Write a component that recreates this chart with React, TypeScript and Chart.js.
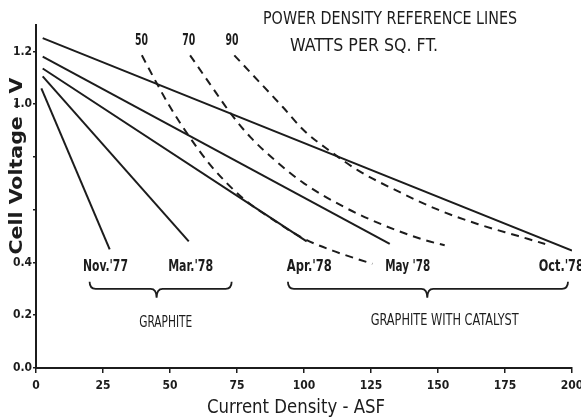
import React, { useEffect, useRef } from "react";
import { Chart, registerables } from "chart.js";

Chart.register(...registerables);

// Cell performance lines (current density ASF, cell voltage V)
const novI = [2, 27.5];
const novV = [1.06, 0.45];
const marI = [2.5, 57];
const marV = [1.105, 0.48];
const aprI = [2.5, 101];
const aprV = [1.135, 0.48];
const mayI = [2.5, 132];
const mayV = [1.18, 0.47];
const octI = [2.5, 200];
const octV = [1.25, 0.445];

// Power density reference lines
const p50I = [39.5, 45, 50, 57, 65, 77, 88, 100, 112, 125.5];
const p50V = [1.185, 1.08, 0.99, 0.88, 0.77, 0.645, 0.565, 0.49, 0.44, 0.395];
const p70I = [57.5, 65, 73, 80, 90, 100, 115, 130, 145, 152.5];
const p70V = [1.185, 1.075, 0.96, 0.875, 0.78, 0.7, 0.61, 0.54, 0.485, 0.465];
const p90I = [74, 80, 92, 100, 110, 120, 135, 150, 165, 180, 190];
const p90V = [1.185, 1.12, 0.99, 0.9, 0.82, 0.75, 0.67, 0.6, 0.545, 0.5, 0.47];

// Labels
const powerLabels = ["50", "70", "90"];
const powerLabelI = [39.4, 57, 73.1];
const powerLabelV = 1.24;
const dateLabels = ["Nov.'77", "Mar.'78", "Apr.'78", "May '78", "Oct.'78"];
const dateLabelI = [25.9, 57.7, 102, 138.7, 196];
const dateLabelV = 0.384;
const groupLabels = ["GRAPHITE", "GRAPHITE WITH CATALYST"];
const groupLabelI = [48.4, 152.5];
const groupLabelV = [0.169, 0.177];
const braceStartI = [20, 94];
const braceEndI = [73, 198.5];
const braceMidI = [45, 146];
const braceV = 0.3;

const xTicks = [0, 25, 50, 75, 100, 125, 150, 175, 200];
const yTickLabels: Record<string, string> = {
  "0": "0.0",
  "0.2": "0.2",
  "0.4": "0.4",
  "0.6": "",
  "0.8": "",
  "1": "1.0",
  "1.2": "1.2",
};

const INK = "#1c1c1c";
const FONT = '"DejaVu Sans Condensed", "DejaVu Sans", sans-serif';

function pts(xs: number[], ys: number[]) {
  return xs.map((x, i) => ({ x, y: ys[i] }));
}

function drawText(
  ctx: CanvasRenderingContext2D,
  text: string,
  x: number,
  y: number,
  size: number,
  weight: string,
  width: number | null,
  align: CanvasTextAlign = "center",
  rotate = 0
) {
  ctx.save();
  ctx.font = `${weight} ${size}px ${FONT}`;
  const w = ctx.measureText(text).width;
  const sx = width ? width / w : 1;
  ctx.translate(x, y);
  if (rotate) ctx.rotate(rotate);
  ctx.scale(sx, 1);
  ctx.fillStyle = INK;
  ctx.textAlign = align;
  ctx.textBaseline = "middle";
  ctx.fillText(text, 0, 0);
  ctx.restore();
}

const annotPlugin = {
  id: "annot",
  beforeDraw(chart: any) {
    const ctx = chart.ctx;
    ctx.save();
    ctx.fillStyle = "#ffffff";
    ctx.fillRect(0, 0, chart.width, chart.height);
    ctx.restore();
  },
  afterDraw(chart: any) {
    const ctx: CanvasRenderingContext2D = chart.ctx;
    const xs = chart.scales.x;
    const ys = chart.scales.y;
    const X = (v: number) => xs.getPixelForValue(v);
    const Y = (v: number) => ys.getPixelForValue(v);
    const area = chart.chartArea;

    // heading
    drawText(ctx, "POWER DENSITY REFERENCE LINES", 263, 19, 18, "normal", 254, "left");
    drawText(ctx, "WATTS PER SQ. FT.", 290, 46, 18, "normal", 148, "left");

    powerLabels.forEach((t, i) =>
      drawText(ctx, t, X(powerLabelI[i]), Y(powerLabelV), 15, "bold", 13)
    );
    dateLabels.forEach((t, i) =>
      drawText(ctx, t, X(dateLabelI[i]), Y(dateLabelV), 15, "bold", 45)
    );
    drawText(ctx, groupLabels[0], X(groupLabelI[0]), Y(groupLabelV[0]), 15, "normal", 53);
    drawText(ctx, groupLabels[1], X(groupLabelI[1]), Y(groupLabelV[1]), 15, "normal", 148);

    // braces
    ctx.save();
    ctx.strokeStyle = INK;
    ctx.lineWidth = 1.8;
    braceStartI.forEach((s, i) => {
      const x1 = X(s);
      const x2 = X(braceEndI[i]);
      const xc = X(braceMidI[i]);
      const y = Y(braceV);
      ctx.beginPath();
      ctx.moveTo(x1, y - 7);
      ctx.quadraticCurveTo(x1, y, x1 + 6, y);
      ctx.lineTo(xc - 6, y);
      ctx.quadraticCurveTo(xc, y, xc, y + 9);
      ctx.quadraticCurveTo(xc, y, xc + 6, y);
      ctx.lineTo(x2 - 6, y);
      ctx.quadraticCurveTo(x2, y, x2, y - 7);
      ctx.stroke();
    });
    ctx.restore();

    // axis titles
    drawText(ctx, "Current Density - ASF", 296, 408, 19, "normal", 178);
    drawText(ctx, "Cell Voltage - V", area.left - 19, 166, 18, "bold", 177, "center", -Math.PI / 2);
  },
};

export default function App() {
  const ref = useRef<HTMLCanvasElement | null>(null);

  useEffect(() => {
    if (!ref.current) return;
    const solid = (xs: number[], ys: number[]) => ({
      data: pts(xs, ys),
      borderColor: INK,
      borderWidth: 2,
      pointRadius: 0,
      fill: false,
      tension: 0,
    });
    const dashed = (xs: number[], ys: number[]) => ({
      data: pts(xs, ys),
      borderColor: INK,
      borderWidth: 2,
      borderDash: [8, 6],
      pointRadius: 0,
      fill: false,
      cubicInterpolationMode: "monotone" as const,
    });
    const chart = new Chart(ref.current, {
      type: "line",
      data: {
        datasets: [
          solid(novI, novV),
          solid(marI, marV),
          solid(aprI, aprV),
          solid(mayI, mayV),
          solid(octI, octV),
          dashed(p50I, p50V),
          dashed(p70I, p70V),
          dashed(p90I, p90V),
        ],
      },
      options: {
        animation: false,
        responsive: true,
        maintainAspectRatio: false,
        layout: { padding: { top: 25, right: 9, left: 0, bottom: 0 } },
        plugins: {
          legend: { display: false },
          tooltip: { enabled: false },
          title: { display: false },
        },
        scales: {
          x: {
            type: "linear",
            min: 0,
            max: 200,
            afterFit: (s: any) => {
              s.height = 52;
              s.paddingLeft = 0;
              s.paddingRight = 0;
            },
            afterBuildTicks: (s: any) => {
              s.ticks = xTicks.map((v) => ({ value: v }));
            },
            grid: { display: true, drawOnChartArea: false, tickLength: 5, color: INK, lineWidth: 1.5 },
            border: { display: true, color: INK, width: 2 },
            ticks: {
              color: INK,
              padding: 6,
              maxRotation: 0,
              autoSkip: false,
              font: { family: FONT, size: 12, weight: "bold" },
              callback: (v: any) => String(v),
            },
          },
          y: {
            type: "linear",
            min: 0,
            max: 1.3,
            afterFit: (s: any) => {
              s.width = 36;
              s.paddingTop = 0;
              s.paddingBottom = 0;
            },
            grid: { display: true, drawOnChartArea: false, tickLength: 3, color: INK, lineWidth: 1.5 },
            border: { display: true, color: INK, width: 2 },
            ticks: {
              stepSize: 0.2,
              includeBounds: false,
              color: INK,
              padding: 1,
              autoSkip: false,
              font: { family: FONT, size: 12, weight: "bold" },
              callback: (v: any) => {
                const k = String(Math.round(Number(v) * 10) / 10);
                return yTickLabels[k] ?? "";
              },
            },
          },
        },
      } as any,
      plugins: [annotPlugin],
    });
    return () => chart.destroy();
  }, []);

  return (
    <div style={{ position: "fixed", left: 0, top: 0, width: 581, height: 420, background: "#fff" }}>
      <canvas ref={ref} />
    </div>
  );
}
